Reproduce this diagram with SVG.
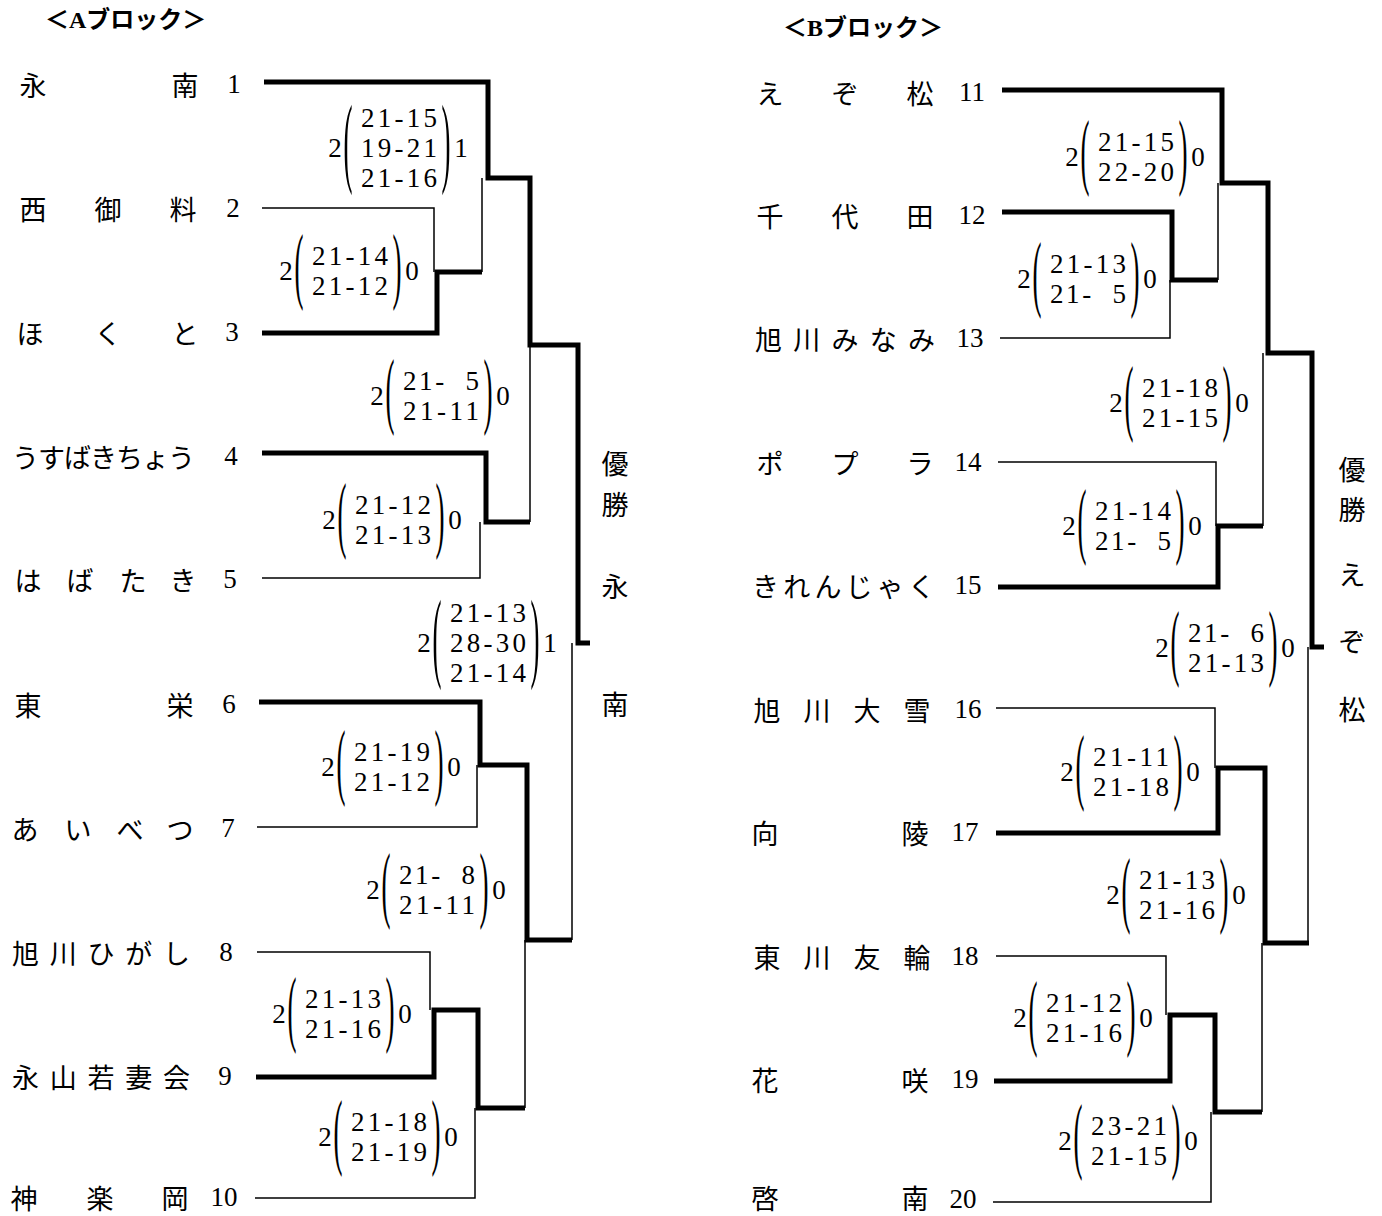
<svg xmlns="http://www.w3.org/2000/svg" width="1382" height="1216" viewBox="0 0 1382 1216">
<style>
.n{font-family:"Noto Sans CJK JP","Noto Sans",sans-serif;font-size:27px;fill:#000;dominant-baseline:central}
.c{text-anchor:middle}
.d{font-family:"Liberation Serif","Noto Sans CJK JP",serif;font-size:27px;fill:#000;text-anchor:middle;dominant-baseline:central;white-space:pre}
.p{font-family:"Liberation Serif",serif;font-size:27px;fill:#000;text-anchor:middle}
.t{font-family:"Liberation Serif","Noto Sans CJK JP",serif;font-size:24px;font-weight:bold;fill:#000}
.k{fill:none;stroke:#000;stroke-width:5;stroke-linejoin:miter;stroke-linecap:butt}
.h{fill:none;stroke:#000;stroke-width:1.5;stroke-linecap:butt}
</style>
<rect width="1382" height="1216" fill="#fff"/>

<g id="titles">
<text class="t" x="45" y="28">＜Aブロック＞</text>
<text class="t" x="783" y="36">＜Bブロック＞</text>
</g>

<g id="connectors">
<path class="k" d="M264,82 H488 V178 H530 V345 H578 V643 H590"/>
<path class="k" d="M262,333 H437 V272 H482"/>
<path class="h" d="M262,208 H434 V272 M482,272 V178"/>
<path class="k" d="M262,453 H486 V522 H530"/>
<path class="h" d="M530,522 V345 M262,578 H480 V522"/>
<path class="k" d="M259,702 H480 V765 H527 V940 H572"/>
<path class="h" d="M572,940 V643 M257,827 H477 V765"/>
<path class="k" d="M256,1077 H434 V1010 H478 V1108 H525"/>
<path class="h" d="M525,1108 V940 M257,952 H430 V1010 M255,1198 H475 V1108"/>

<path class="k" d="M1002,90 H1222 V183 H1268 V353 H1312 V647 H1324"/>
<path class="k" d="M1002,212 H1172 V280 H1218"/>
<path class="h" d="M1218,280 V183 M1000,338 H1170 V280"/>
<path class="h" d="M998,462 H1216 V526"/>
<path class="k" d="M998,587 H1218 V526 H1263"/>
<path class="h" d="M1263,526 V353"/>
<path class="h" d="M996,708 H1215 V768"/>
<path class="k" d="M996,833 H1218 V768 H1265 V943 H1309"/>
<path class="h" d="M1308,943 V647"/>
<path class="h" d="M996,956 H1166 V1015"/>
<path class="k" d="M994,1081 H1170 V1015 H1215 V1112 H1262"/>
<path class="h" d="M1262,1112 V943 M993,1202 H1211 V1112"/>
</g>

<g id="team1"><text class="n c" x="33 185" y="84">永南</text><text class="d" x="234" y="84">1</text></g>
<g id="team2"><text class="n c" x="33 108 183" y="208">西御料</text><text class="d" x="233" y="208">2</text></g>
<g id="team3"><text class="n c" x="30 108 185" y="332">ほくと</text><text class="d" x="232" y="332">3</text></g>
<g id="team4"><text class="n" x="12" y="456" textLength="183" lengthAdjust="spacing">うすばきちょう</text><text class="d" x="231" y="456">4</text></g>
<g id="team5"><text class="n c" x="28 80 133 183" y="579">はばたき</text><text class="d" x="230" y="579">5</text></g>
<g id="team6"><text class="n c" x="28 180" y="704">東栄</text><text class="d" x="229" y="704">6</text></g>
<g id="team7"><text class="n c" x="25 78 130 180" y="828">あいべつ</text><text class="d" x="228" y="828">7</text></g>
<g id="team8"><text class="n" x="12" y="952" textLength="178" lengthAdjust="spacing">旭川ひがし</text><text class="d" x="226" y="952">8</text></g>
<g id="team9"><text class="n" x="12" y="1076" textLength="178" lengthAdjust="spacing">永山若妻会</text><text class="d" x="225" y="1076">9</text></g>
<g id="team10"><text class="n c" x="24 100 175" y="1197">神楽岡</text><text class="d" x="224" y="1197">10</text></g>

<g id="team11"><text class="n c" x="770 845 920" y="92">えぞ松</text><text class="d" x="972" y="92">11</text></g>
<g id="team12"><text class="n c" x="770 845 920" y="215">千代田</text><text class="d" x="972" y="215">12</text></g>
<g id="team13"><text class="n" x="755" y="338" textLength="180" lengthAdjust="spacing">旭川みなみ</text><text class="d" x="970" y="338">13</text></g>
<g id="team14"><text class="n c" x="770 845 920" y="462">ポプラ</text><text class="d" x="968" y="462">14</text></g>
<g id="team15"><text class="n" x="752" y="585" textLength="183" lengthAdjust="spacing">きれんじゃく</text><text class="d" x="968" y="585">15</text></g>
<g id="team16"><text class="n c" x="767 817 867 917" y="709">旭川大雪</text><text class="d" x="968" y="709">16</text></g>
<g id="team17"><text class="n c" x="765 915" y="832">向陵</text><text class="d" x="965" y="832">17</text></g>
<g id="team18"><text class="n c" x="767 817 867 917" y="956">東川友輪</text><text class="d" x="965" y="956">18</text></g>
<g id="team19"><text class="n c" x="765 915" y="1079">花咲</text><text class="d" x="965" y="1079">19</text></g>
<g id="team20"><text class="n c" x="765 915" y="1197">啓南</text><text class="d" x="963" y="1199">20</text></g>

<g id="champA"><text class="n c" x="615 615 615 615" y="462 503 585 703">優勝永南</text></g>
<g id="champB"><text class="n c" x="1352 1352 1352 1352 1352" y="468 508 573 640 708">優勝えぞ松</text></g>

<g id="scoreA1" transform="translate(399,148)">
<text class="d" x="-64" y="0">2</text><text class="p" transform="translate(-51,26) scale(1,3.7)">(</text>
<text class="d" x="0" y="-30" textLength="76" lengthAdjust="spacing">21-15</text><text class="d" x="0" y="0" textLength="76" lengthAdjust="spacing">19-21</text><text class="d" x="0" y="30" textLength="76" lengthAdjust="spacing">21-16</text>
<text class="p" transform="translate(47,26) scale(1,3.7)">)</text><text class="d" x="62" y="0">1</text></g>

<g id="scoreA2" transform="translate(350,271)">
<text class="d" x="-64" y="0">2</text><text class="p" transform="translate(-51,22) scale(1,3.1)">(</text>
<text class="d" x="0" y="-15" textLength="76" lengthAdjust="spacing">21-14</text><text class="d" x="0" y="15" textLength="76" lengthAdjust="spacing">21-12</text>
<text class="p" transform="translate(47,22) scale(1,3.1)">)</text><text class="d" x="62" y="0">0</text></g>

<g id="scoreA3" transform="translate(441,396)">
<text class="d" x="-64" y="0">2</text><text class="p" transform="translate(-51,22) scale(1,3.1)">(</text>
<text class="d" x="0" y="-15" textLength="76" lengthAdjust="spacing">21-  5</text><text class="d" x="0" y="15" textLength="76" lengthAdjust="spacing">21-11</text>
<text class="p" transform="translate(47,22) scale(1,3.1)">)</text><text class="d" x="62" y="0">0</text></g>

<g id="scoreA4" transform="translate(393,520)">
<text class="d" x="-64" y="0">2</text><text class="p" transform="translate(-51,22) scale(1,3.1)">(</text>
<text class="d" x="0" y="-15" textLength="76" lengthAdjust="spacing">21-12</text><text class="d" x="0" y="15" textLength="76" lengthAdjust="spacing">21-13</text>
<text class="p" transform="translate(47,22) scale(1,3.1)">)</text><text class="d" x="62" y="0">0</text></g>

<g id="scoreA5" transform="translate(488,643)">
<text class="d" x="-64" y="0">2</text><text class="p" transform="translate(-51,26) scale(1,3.7)">(</text>
<text class="d" x="0" y="-30" textLength="76" lengthAdjust="spacing">21-13</text><text class="d" x="0" y="0" textLength="76" lengthAdjust="spacing">28-30</text><text class="d" x="0" y="30" textLength="76" lengthAdjust="spacing">21-14</text>
<text class="p" transform="translate(47,26) scale(1,3.7)">)</text><text class="d" x="62" y="0">1</text></g>

<g id="scoreA6" transform="translate(392,767)">
<text class="d" x="-64" y="0">2</text><text class="p" transform="translate(-51,22) scale(1,3.1)">(</text>
<text class="d" x="0" y="-15" textLength="76" lengthAdjust="spacing">21-19</text><text class="d" x="0" y="15" textLength="76" lengthAdjust="spacing">21-12</text>
<text class="p" transform="translate(47,22) scale(1,3.1)">)</text><text class="d" x="62" y="0">0</text></g>

<g id="scoreA7" transform="translate(437,890)">
<text class="d" x="-64" y="0">2</text><text class="p" transform="translate(-51,22) scale(1,3.1)">(</text>
<text class="d" x="0" y="-15" textLength="76" lengthAdjust="spacing">21-  8</text><text class="d" x="0" y="15" textLength="76" lengthAdjust="spacing">21-11</text>
<text class="p" transform="translate(47,22) scale(1,3.1)">)</text><text class="d" x="62" y="0">0</text></g>

<g id="scoreA8" transform="translate(343,1014)">
<text class="d" x="-64" y="0">2</text><text class="p" transform="translate(-51,22) scale(1,3.1)">(</text>
<text class="d" x="0" y="-15" textLength="76" lengthAdjust="spacing">21-13</text><text class="d" x="0" y="15" textLength="76" lengthAdjust="spacing">21-16</text>
<text class="p" transform="translate(47,22) scale(1,3.1)">)</text><text class="d" x="62" y="0">0</text></g>

<g id="scoreA9" transform="translate(389,1137)">
<text class="d" x="-64" y="0">2</text><text class="p" transform="translate(-51,22) scale(1,3.1)">(</text>
<text class="d" x="0" y="-15" textLength="76" lengthAdjust="spacing">21-18</text><text class="d" x="0" y="15" textLength="76" lengthAdjust="spacing">21-19</text>
<text class="p" transform="translate(47,22) scale(1,3.1)">)</text><text class="d" x="62" y="0">0</text></g>

<g id="scoreB1" transform="translate(1136,157)">
<text class="d" x="-64" y="0">2</text><text class="p" transform="translate(-51,22) scale(1,3.1)">(</text>
<text class="d" x="0" y="-15" textLength="76" lengthAdjust="spacing">21-15</text><text class="d" x="0" y="15" textLength="76" lengthAdjust="spacing">22-20</text>
<text class="p" transform="translate(47,22) scale(1,3.1)">)</text><text class="d" x="62" y="0">0</text></g>

<g id="scoreB2" transform="translate(1088,279)">
<text class="d" x="-64" y="0">2</text><text class="p" transform="translate(-51,22) scale(1,3.1)">(</text>
<text class="d" x="0" y="-15" textLength="76" lengthAdjust="spacing">21-13</text><text class="d" x="0" y="15" textLength="76" lengthAdjust="spacing">21-  5</text>
<text class="p" transform="translate(47,22) scale(1,3.1)">)</text><text class="d" x="62" y="0">0</text></g>

<g id="scoreB3" transform="translate(1180,403)">
<text class="d" x="-64" y="0">2</text><text class="p" transform="translate(-51,22) scale(1,3.1)">(</text>
<text class="d" x="0" y="-15" textLength="76" lengthAdjust="spacing">21-18</text><text class="d" x="0" y="15" textLength="76" lengthAdjust="spacing">21-15</text>
<text class="p" transform="translate(47,22) scale(1,3.1)">)</text><text class="d" x="62" y="0">0</text></g>

<g id="scoreB4" transform="translate(1133,526)">
<text class="d" x="-64" y="0">2</text><text class="p" transform="translate(-51,22) scale(1,3.1)">(</text>
<text class="d" x="0" y="-15" textLength="76" lengthAdjust="spacing">21-14</text><text class="d" x="0" y="15" textLength="76" lengthAdjust="spacing">21-  5</text>
<text class="p" transform="translate(47,22) scale(1,3.1)">)</text><text class="d" x="62" y="0">0</text></g>

<g id="scoreB5" transform="translate(1226,648)">
<text class="d" x="-64" y="0">2</text><text class="p" transform="translate(-51,22) scale(1,3.1)">(</text>
<text class="d" x="0" y="-15" textLength="76" lengthAdjust="spacing">21-  6</text><text class="d" x="0" y="15" textLength="76" lengthAdjust="spacing">21-13</text>
<text class="p" transform="translate(47,22) scale(1,3.1)">)</text><text class="d" x="62" y="0">0</text></g>

<g id="scoreB6" transform="translate(1131,772)">
<text class="d" x="-64" y="0">2</text><text class="p" transform="translate(-51,22) scale(1,3.1)">(</text>
<text class="d" x="0" y="-15" textLength="76" lengthAdjust="spacing">21-11</text><text class="d" x="0" y="15" textLength="76" lengthAdjust="spacing">21-18</text>
<text class="p" transform="translate(47,22) scale(1,3.1)">)</text><text class="d" x="62" y="0">0</text></g>

<g id="scoreB7" transform="translate(1177,895)">
<text class="d" x="-64" y="0">2</text><text class="p" transform="translate(-51,22) scale(1,3.1)">(</text>
<text class="d" x="0" y="-15" textLength="76" lengthAdjust="spacing">21-13</text><text class="d" x="0" y="15" textLength="76" lengthAdjust="spacing">21-16</text>
<text class="p" transform="translate(47,22) scale(1,3.1)">)</text><text class="d" x="62" y="0">0</text></g>

<g id="scoreB8" transform="translate(1084,1018)">
<text class="d" x="-64" y="0">2</text><text class="p" transform="translate(-51,22) scale(1,3.1)">(</text>
<text class="d" x="0" y="-15" textLength="76" lengthAdjust="spacing">21-12</text><text class="d" x="0" y="15" textLength="76" lengthAdjust="spacing">21-16</text>
<text class="p" transform="translate(47,22) scale(1,3.1)">)</text><text class="d" x="62" y="0">0</text></g>

<g id="scoreB9" transform="translate(1129,1141)">
<text class="d" x="-64" y="0">2</text><text class="p" transform="translate(-51,22) scale(1,3.1)">(</text>
<text class="d" x="0" y="-15" textLength="76" lengthAdjust="spacing">23-21</text><text class="d" x="0" y="15" textLength="76" lengthAdjust="spacing">21-15</text>
<text class="p" transform="translate(47,22) scale(1,3.1)">)</text><text class="d" x="62" y="0">0</text></g>
</svg>
